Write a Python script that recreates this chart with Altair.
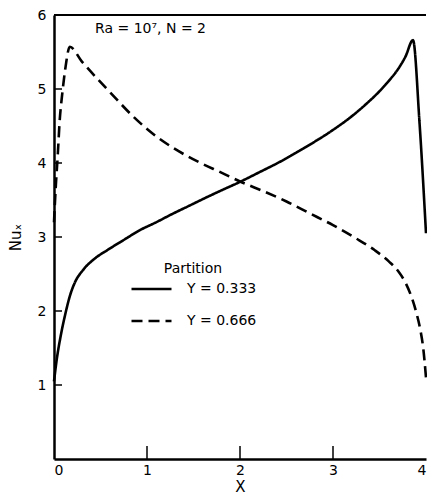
import altair as alt
import pandas as pd

# ---- data ----
x_solid = [0.0, 0.03, 0.07, 0.12, 0.17, 0.23, 0.31, 0.45, 0.57, 0.75, 0.92, 1.1, 1.27,
           1.45, 1.63, 1.8, 2.0, 2.2, 2.45, 2.7, 2.98, 3.2, 3.35, 3.5, 3.6, 3.7, 3.78,
           3.86, 3.93, 4.0]
y_solid = [1.05, 1.35, 1.65, 1.95, 2.2, 2.4, 2.55, 2.72, 2.82, 2.96, 3.09, 3.2, 3.31,
           3.42, 3.53, 3.63, 3.745, 3.87, 4.03, 4.21, 4.43, 4.63, 4.79, 4.97, 5.11, 5.27,
           5.44, 5.66, 4.55, 3.05]

x_dash = [0.0, 0.02, 0.04, 0.06, 0.09, 0.12, 0.17, 0.3, 0.45, 0.6, 0.85, 1.12, 1.3,
          1.56, 1.8, 2.0, 2.25, 2.5, 2.75, 3.0, 3.25, 3.45, 3.6, 3.7, 3.78, 3.85, 3.9,
          3.94, 3.97, 4.0]
y_dash = [3.2, 3.7, 4.1, 4.55, 4.95, 5.26, 5.57, 5.37, 5.16, 4.96, 4.63, 4.34, 4.19,
          4.01, 3.87, 3.75, 3.62, 3.48, 3.32, 3.16, 2.98, 2.82, 2.67, 2.54, 2.38, 2.17,
          1.96, 1.74, 1.5, 1.1]

series_names = ["Y = 0.333", "Y = 0.666"]
x_label_values = [0, 1, 2, 3, 4]
y_label_values = [1, 2, 3, 4, 5, 6]
x_inner_ticks = [1, 2, 3]
y_inner_ticks = [1, 2, 3, 4, 5]
annotation = ["Ra = 10⁷, N = 2"]
legend_title = "Partition"
x_title = "X"
y_title = "Nuₓ"

W, H = 372, 444
FONT = "DejaVu Sans"

df = pd.concat([
    pd.DataFrame({"x": x_solid, "y": y_solid, "series": series_names[0]}),
    pd.DataFrame({"x": x_dash, "y": y_dash, "series": series_names[1]}),
], ignore_index=True)


def make_chart(inward_axis_ticks):
    xscale = alt.Scale(domain=[0, 4], nice=False, zero=False)
    yscale = alt.Scale(domain=[0, 6], nice=False)

    common = dict(grid=False, domainColor="black", domainWidth=2.5,
                  labelFontSize=14, titleFontSize=15, titleFontWeight="normal",
                  labelFont=FONT, titleFont=FONT, labelColor="black",
                  titleColor="black", format="d")
    if inward_axis_ticks:
        xaxis = alt.Axis(values=x_label_values, title=x_title, ticks=True,
                         tickSize=1, tickColor="black", tickWidth=1.5,
                         labelPadding=3, titlePadding=2,
                         encode={"ticks": {"y2": {"value": -13}}}, **common)
        yaxis = alt.Axis(values=y_label_values, title=y_title, ticks=True,
                         tickSize=1, tickColor="black", tickWidth=1.5,
                         labelPadding=7, titlePadding=14,
                         encode={"ticks": {"x2": {"value": 8}}}, **common)
    else:
        xaxis = alt.Axis(values=x_label_values, title=x_title, ticks=False,
                         labelPadding=4, titlePadding=2, **common)
        yaxis = alt.Axis(values=y_label_values, title=y_title, ticks=False,
                         labelPadding=8, titlePadding=14, **common)

    xticks = alt.Chart(pd.DataFrame({"tx": x_inner_ticks})).mark_rule(
        color="black", strokeWidth=1.5
    ).encode(x=alt.X("tx:Q", scale=xscale, axis=xaxis),
             y=alt.value(H), y2=alt.value(H - 13))

    yticks = alt.Chart(pd.DataFrame({"ty": y_inner_ticks})).mark_rule(
        color="black", strokeWidth=1.5
    ).encode(y=alt.Y("ty:Q", scale=yscale, axis=yaxis),
             x=alt.value(0), x2=alt.value(8))

    lines = alt.Chart(df).mark_line(
        color="black", interpolate="monotone", strokeWidth=2.6
    ).encode(
        x=alt.X("x:Q", scale=xscale, axis=xaxis),
        y=alt.Y("y:Q", scale=yscale, axis=yaxis),
        strokeDash=alt.StrokeDash("series:N", scale=alt.Scale(
            domain=series_names, range=[[1, 0], [11, 6]]),
            legend=alt.Legend(
                title=legend_title, orient="none", legendX=76, legendY=247,
                symbolType="stroke", symbolSize=1600, symbolStrokeWidth=2.6,
                symbolStrokeColor="black", titleAnchor="middle",
                titleFont=FONT, labelFont=FONT, titleFontSize=14, labelFontSize=14,
                titleFontWeight="normal", titleColor="black", labelColor="black",
                labelOffset=14, rowPadding=14, clipHeight=18, titlePadding=4,
                padding=0)),
    )

    top_border = alt.Chart(pd.DataFrame({"x": [0]})).mark_rule(
        color="black", strokeWidth=2.2
    ).encode(x=alt.value(0), x2=alt.value(W), y=alt.value(0))

    note = alt.Chart(pd.DataFrame({"label": annotation})).mark_text(
        align="left", baseline="middle", font=FONT, fontSize=14, color="black"
    ).encode(text="label:N", x=alt.value(41), y=alt.value(14))

    return alt.layer(xticks, yticks, lines, top_border, note).properties(
        width=W, height=H,
        autosize=alt.AutoSizeParams(type="none"),
        padding={"left": 54, "top": 15, "right": 1, "bottom": 39},
        background="white",
    ).configure_view(stroke=None)


try:
    chart = make_chart(True)
    chart.to_dict()
except Exception:
    chart = make_chart(False)

chart.save("out.html", embed_options={"renderer": "svg", "actions": False})
